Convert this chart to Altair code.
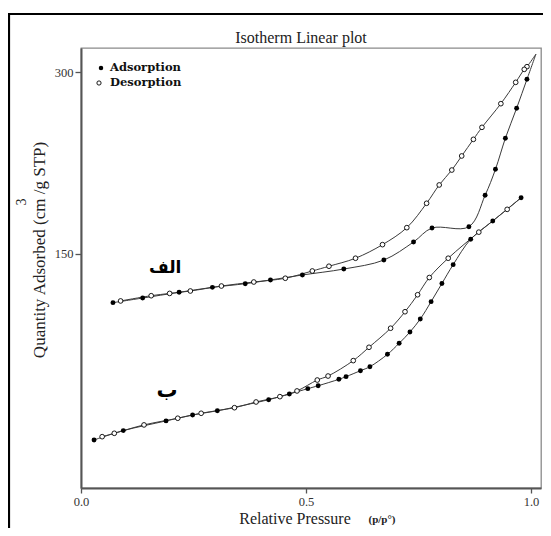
import altair as alt
import pandas as pd

# ---------------- data ----------------
# sample "الف"
alef_ads_p = [0.071, 0.137, 0.218, 0.292, 0.365, 0.421, 0.492, 0.584, 0.673, 0.739,
              0.780, 0.862, 0.898, 0.921, 0.943, 0.968, 0.991]
alef_ads_q = [109.9, 113.7, 118.4, 122.5, 125.5, 128.6, 132.7, 137.6, 145.0, 159.9,
              171.4, 172.5, 198.4, 219.8, 245.4, 270.1, 294.0]
alef_top_p = [1.011]
alef_top_q = [314.8]
alef_des_p = [0.991, 0.985, 0.966, 0.933, 0.891, 0.872, 0.846, 0.824, 0.796, 0.768,
              0.724, 0.670, 0.610, 0.551, 0.514, 0.454, 0.384, 0.312, 0.243, 0.197,
              0.156, 0.088]
alef_des_q = [304.4, 302.2, 291.5, 273.9, 254.4, 244.5, 230.8, 219.2, 206.9, 191.8,
              171.7, 157.7, 146.5, 139.9, 136.0, 130.0, 126.9, 123.6, 119.5, 117.5,
              115.6, 111.3]

# sample "ب"
be_ads_p = [0.029, 0.094, 0.189, 0.248, 0.303, 0.417, 0.463, 0.504, 0.527, 0.573,
            0.589, 0.621, 0.642, 0.681, 0.707, 0.731, 0.754, 0.778, 0.802, 0.827,
            0.866, 0.915, 0.978]
be_ads_q = [-3.3, 4.4, 12.4, 17.3, 20.8, 29.9, 34.6, 39.0, 41.4, 46.7,
            48.9, 53.8, 57.1, 67.3, 76.4, 85.7, 96.4, 110.7, 125.7, 141.2,
            162.2, 177.2, 196.4]
be_des_p = [0.947, 0.884, 0.816, 0.774, 0.748, 0.720, 0.688, 0.640, 0.605, 0.549,
            0.525, 0.480, 0.442, 0.389, 0.341, 0.267, 0.215, 0.140, 0.074, 0.047]
be_des_q = [186.8, 168.0, 146.5, 130.6, 116.4, 102.4, 88.8, 73.1, 62.1, 49.4,
            46.1, 37.1, 32.4, 28.0, 23.3, 18.7, 14.6, 9.1, 2.2, -0.6]

sample_names = ["الف", "ب"]
sample_label_p = [0.187, 0.191]
sample_label_q = [138.5, 37.0]

x_ticks = [0.0, 0.5, 1.0]
y_ticks = [150, 300]
x_domain = [0.0, 1.0222]
y_domain = [-42.9, 319.8]

legend_labels = ["Adsorption", "Desorption"]
title_text = "Isotherm Linear plot"
x_title = "Relative Pressure"
x_unit = "(p/p°)"
y_title = "Quantity Adsorbed (cm   /g   STP)"
y_sup = "3"

# ---------------- tables ----------------
def rows(sample, branch, ps, qs):
    return [{"sample": sample, "branch": branch, "key": sample + "-" + branch,
             "p": p, "q": q} for p, q in zip(ps, qs)]

line_rows = []
line_rows += rows("alef", "ads", alef_ads_p + alef_top_p, alef_ads_q + alef_top_q)
line_rows += rows("alef", "des", alef_top_p + alef_des_p, alef_top_q + alef_des_q)
line_rows += rows("be", "ads", be_ads_p, be_ads_q)
line_rows += rows("be", "des", be_ads_p[-1:] + be_des_p, be_ads_q[-1:] + be_des_q)
lines_df = pd.DataFrame(line_rows)

ads_df = pd.DataFrame(rows("alef", "ads", alef_ads_p, alef_ads_q)
                      + rows("be", "ads", be_ads_p, be_ads_q))
des_df = pd.DataFrame(rows("alef", "des", alef_des_p, alef_des_q)
                      + rows("be", "des", be_des_p, be_des_q))
lab_df = pd.DataFrame({"name": sample_names, "p": sample_label_p, "q": sample_label_q,
                       "fs": [17, 21]})
one = pd.DataFrame({"k": [0]})

SERIF = "Liberation Serif"

xenc = alt.X("p:Q", scale=alt.Scale(domain=x_domain, nice=False, zero=False),
             axis=alt.Axis(values=x_ticks, format=".1f", title=None, labelFlush=False))
yenc = alt.Y("q:Q", scale=alt.Scale(domain=y_domain, nice=False, zero=False),
             axis=alt.Axis(values=y_ticks, format="d", title=None, labelFlush=False))

lines = alt.Chart(lines_df).mark_line(
    interpolate="catmull-rom", color="#3a3a3a", strokeWidth=1
).encode(x=xenc, y=yenc, detail="key:N")

ads_pts = alt.Chart(ads_df).mark_circle(size=24, color="black", opacity=1).encode(
    x="p:Q", y="q:Q")
des_pts = alt.Chart(des_df).mark_circle(
    size=22, fill="white", stroke="black", strokeWidth=0.9, opacity=1
).encode(x="p:Q", y="q:Q")

labels = alt.Chart(lab_df).mark_text(
    font="DejaVu Sans", fontWeight="bold", color="black",
    align="center", baseline="middle"
).encode(x="p:Q", y="q:Q", text="name:N",
         size=alt.Size("fs:Q", scale=None, legend=None))

def txt(s, x, y, **kw):
    return alt.Chart(one).mark_text(**kw).encode(
        x=alt.value(x), y=alt.value(y), text=alt.value(s))

texts = [
    txt(title_text, 220, -10, font=SERIF, fontSize=16, color="#222",
        align="center", baseline="middle"),
    txt(x_title, 214, 471, font=SERIF, fontSize=16, color="#222",
        align="center", baseline="middle"),
    txt(x_unit, 301, 472, font=SERIF, fontSize=11, fontWeight="bold",
        color="#222", align="center", baseline="middle"),
    txt(y_title, -41, 202, font=SERIF, fontSize=17, color="#222", angle=270,
        align="center", baseline="middle"),
    txt(y_sup, -59, 154, font=SERIF, fontSize=14, color="#222", angle=270,
        align="center", baseline="middle"),
    txt(legend_labels[0], 29, 20, font="DejaVu Serif", fontSize=11.5, fontWeight="bold",
        color="#111", align="left", baseline="middle"),
    txt(legend_labels[1], 29, 35, font="DejaVu Serif", fontSize=11.5, fontWeight="bold",
        color="#111", align="left", baseline="middle"),
]

leg_filled = alt.Chart(one).mark_circle(size=20, color="black", opacity=1).encode(
    x=alt.value(20), y=alt.value(20))
leg_open = alt.Chart(one).mark_circle(
    size=18, fill="white", stroke="black", strokeWidth=0.9, opacity=1
).encode(x=alt.value(18), y=alt.value(35))

# outer black frame (top and left)
frame_top = alt.Chart(one).mark_rule(color="black", strokeWidth=2.2).encode(
    x=alt.value(-73), x2=alt.value(470), y=alt.value(-34))
frame_left = alt.Chart(one).mark_rule(color="black", strokeWidth=2.2).encode(
    x=alt.value(-72), y=alt.value(-35), y2=alt.value(500))

chart = alt.layer(
    lines, ads_pts, des_pts, labels, leg_filled, leg_open,
    frame_top, frame_left, *texts
).properties(
    width=460, height=440,
    autosize=alt.AutoSizeParams(type="none"),
    padding={"left": 73, "top": 40, "right": 2, "bottom": 40},
    background="white",
).configure_view(
    stroke="#8a8a8a", strokeWidth=1.3
).configure_axis(
    domainColor="#555", domainWidth=2, tickColor="#555", tickWidth=1.3,
    tickSize=6, labelFont=SERIF, labelFontSize=12.5, labelColor="#333",
    labelPadding=2, grid=False
).configure_axisX(tickSize=5)

chart.save("out.html", embed_options={"renderer": "svg", "actions": False})
